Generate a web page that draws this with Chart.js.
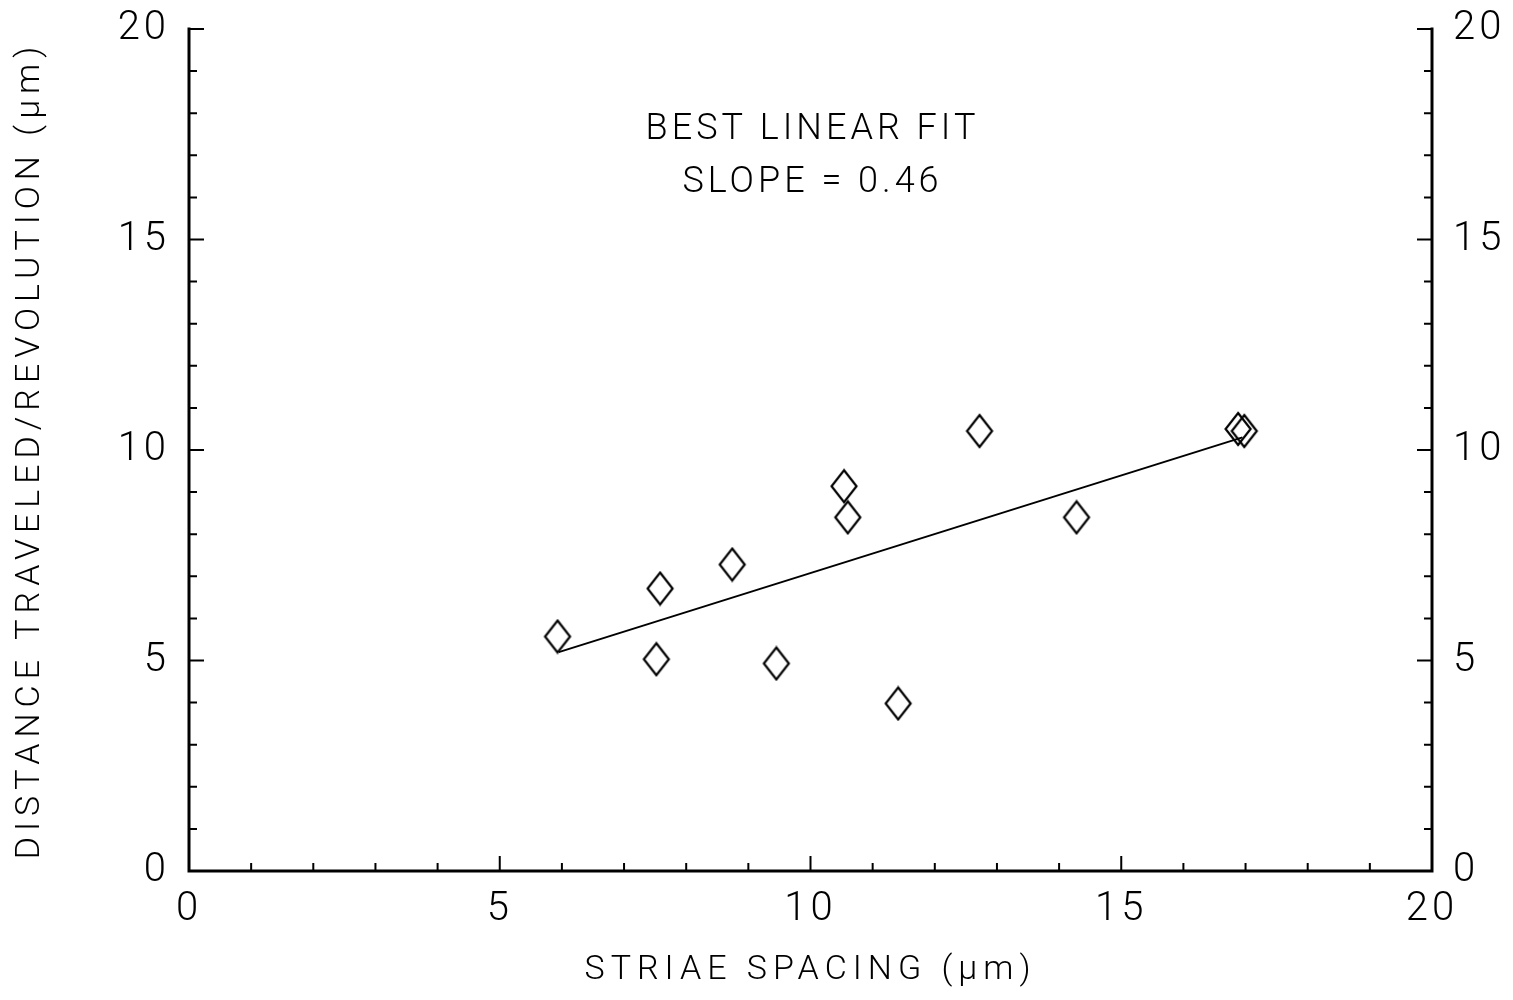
<!DOCTYPE html>
<html><head><meta charset="utf-8">
<script src="https://cdn.jsdelivr.net/npm/chart.js@4/dist/chart.umd.min.js"></script>
<style>html,body{margin:0;padding:0;background:#fff}#wrap{width:1513px;height:1000px}</style>
</head><body><div id="wrap"><canvas id="c" width="1513" height="1000"></canvas></div>
<script>
const striaeSpacing = [5.93, 7.58, 7.52, 8.74, 9.45, 10.54, 10.60, 11.41, 12.72, 14.28, 16.88, 16.98];
const distancePerRev = [5.57, 6.71, 5.03, 7.28, 4.93, 9.14, 8.40, 3.98, 10.45, 8.40, 10.50, 10.45];
const fitX = [5.95, 16.95];
const fitY = [5.2, 10.3];
const tickValues = [0, 5, 10, 15, 20];
const xTitle = 'STRIAE SPACING (\u03BCm)';
const yTitle = 'DISTANCE TRAVELED/REVOLUTION (\u03BCm)';
const annotation = ['BEST LINEAR FIT', 'SLOPE = 0.46'];

const FONT = '"Roboto","Liberation Sans","DejaVu Sans",sans-serif';

// diamond marker
const dm = document.createElement('canvas');
dm.width = 30; dm.height = 36;
(function(){const g=dm.getContext('2d');g.strokeStyle='#000';g.lineWidth=2.2;g.beginPath();
g.moveTo(15,2);g.lineTo(27.5,18);g.lineTo(15,34);g.lineTo(2.5,18);g.closePath();g.stroke();})();

const axesPlugin = {
  id: 'axesPlugin',
  beforeDraw(chart) {
    chart.ctx.letterSpacing = '4px';
  },
  afterDraw(chart) {
    const ctx = chart.ctx, x = chart.scales.x, y = chart.scales.y;
    const x0 = x.getPixelForValue(0), x20 = x.getPixelForValue(20);
    const y0 = y.getPixelForValue(0), y20 = y.getPixelForValue(20);
    ctx.save();
    ctx.strokeStyle = '#000'; ctx.lineWidth = 3; ctx.lineCap = 'square';
    ctx.beginPath();
    ctx.moveTo(x0, y20); ctx.lineTo(x0, y0); ctx.lineTo(x20, y0); ctx.lineTo(x20, y20);
    ctx.stroke();
    ctx.lineWidth = 2; ctx.lineCap = 'butt';
    ctx.beginPath();
    for (let v = 0; v <= 20; v++) {
      const len = v % 5 === 0 ? 15 : 8;
      const px = x.getPixelForValue(v);
      if (v > 0 && v < 20) { ctx.moveTo(px, y0); ctx.lineTo(px, y0 - len); }
      const py = y.getPixelForValue(v);
      if (v > 0) {
        ctx.moveTo(x0, py); ctx.lineTo(x0 + len, py);
        ctx.moveTo(x20, py); ctx.lineTo(x20 - len, py);
      }
    }
    ctx.stroke();
    ctx.fillStyle = '#000';
    ctx.textAlign = 'center'; ctx.textBaseline = 'middle';
    // annotation
    ctx.font = '300 36px ' + FONT;
    ctx.letterSpacing = '4px';
    const ax = x.getPixelForValue(10) + 2;
    ctx.fillText(annotation[0], ax, y.getPixelForValue(17.6));
    ctx.fillText(annotation[1], ax, y.getPixelForValue(16.35));
    // axis titles
    ctx.font = '300 34px ' + FONT;
    ctx.letterSpacing = '6px';
    const cx = (x0 + x20) / 2;
    ctx.fillText(xTitle, cx, 970);
    ctx.save();
    ctx.translate(30, (y0 + y20) / 2);
    ctx.rotate(-Math.PI / 2);
    ctx.fillText(yTitle, 0, 0);
    ctx.restore();
    ctx.restore();
    ctx.letterSpacing = '0px';
  }
};

const tickFont = {family: FONT, size: 40, weight: 300};

new Chart(document.getElementById('c'), {
  type: 'scatter',
  data: {
    datasets: [
      {
        label: 'data',
        data: striaeSpacing.map((v, i) => ({x: v, y: distancePerRev[i]})),
        pointStyle: dm, pointRadius: 15, showLine: false
      },
      {
        label: 'fit',
        data: fitX.map((v, i) => ({x: v, y: fitY[i]})),
        showLine: true, borderColor: '#000', borderWidth: 2, pointRadius: 0
      }
    ]
  },
  options: {
    responsive: false, animation: false,
    layout: {padding: {top: 29, left: 0, right: 0, bottom: 0}},
    plugins: {legend: {display: false}, tooltip: {enabled: false}},
    scales: {
      x: {
        type: 'linear', min: 0, max: 20,
        afterBuildTicks: s => { s.ticks = tickValues.map(v => ({value: v})); },
        afterFit: s => { s.height = 129; s.paddingLeft = 0; s.paddingRight = 0; },
        grid: {display: false, drawTicks: false}, border: {display: false},
        ticks: {color: '#000', font: tickFont, padding: 15, maxRotation: 0},
        title: {display: false}
      },
      y: {
        type: 'linear', position: 'left', min: 0, max: 20,
        afterBuildTicks: s => { s.ticks = tickValues.map(v => ({value: v})); },
        afterFit: s => { s.width = 189; s.paddingTop = 0; s.paddingBottom = 0; },
        grid: {display: false, drawTicks: false}, border: {display: false},
        ticks: {color: '#000', font: tickFont, padding: 19},
        title: {display: false}
      },
      y2: {
        type: 'linear', position: 'right', min: 0, max: 20,
        afterBuildTicks: s => { s.ticks = tickValues.map(v => ({value: v})); },
        afterFit: s => { s.width = 81; s.paddingTop = 0; s.paddingBottom = 0; },
        grid: {display: false, drawTicks: false}, border: {display: false},
        ticks: {color: '#000', font: tickFont, padding: 21}
      }
    }
  },
  plugins: [axesPlugin]
});
</script></body></html>
